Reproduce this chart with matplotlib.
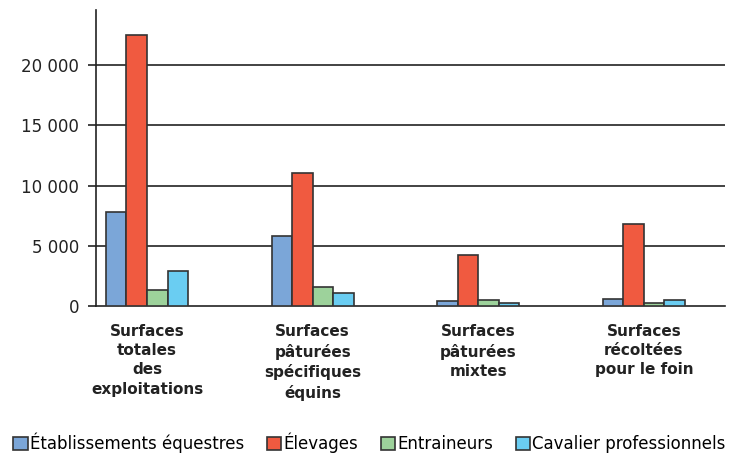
import matplotlib.pyplot as plt
import numpy as np

# data
categories = ["Surfaces\ntotales\ndes\nexploitations",
              "Surfaces\npâturées\nspécifiques\néquins",
              "Surfaces\npâturées\nmixtes",
              "Surfaces\nrécoltées\npour le foin"]
series_names = ["Établissements équestres", "Élevages", "Entraineurs", "Cavalier professionnels"]
etablissements = [7800, 5850, 420, 620]
elevages = [22500, 11000, 4200, 6800]
entraineurs = [1300, 1550, 500, 290]
cavaliers = [2900, 1050, 250, 470]
yticks = [0, 5000, 10000, 15000, 20000]
ytick_labels = ["0", "5 000", "10 000", "15 000", "20 000"]

colors = ["#7ba6d8", "#f05a40", "#9dd29b", "#6acdf2"]
edge = "#333333"

fig = plt.figure(figsize=(7.29, 4.61), dpi=100)
ax = fig.add_axes([0.1317, 0.3362, 0.8628, 0.6418])

x = np.arange(len(categories))
w = 0.124
all_series = [etablissements, elevages, entraineurs, cavaliers]
for i, (vals, name, c) in enumerate(zip(all_series, series_names, colors)):
    ax.bar(x + (i - 1.5) * w, vals, w, color=c, edgecolor=edge, linewidth=1.2,
           label=name, zorder=3)

ax.set_xlim(-0.308, 3.49)
ax.set_ylim(0, 24560)

# horizontal rules
for t in yticks[1:]:
    ax.axhline(t, color="#222222", linewidth=1.2, zorder=1)

ax.set_yticks(yticks)
ax.set_yticklabels(ytick_labels, fontsize=12, color="#222222")
ax.tick_params(axis="y", length=6, width=1.2, color="#222222", pad=6)

ax.set_xticks(x)
ax.set_xticklabels(categories, fontsize=11, fontweight="bold", color="#222222",
                   linespacing=1.35, va="top")
ax.tick_params(axis="x", length=0, pad=13)

for s in ["top", "right"]:
    ax.spines[s].set_visible(False)
ax.spines["left"].set_linewidth(1.2)
ax.spines["bottom"].set_linewidth(1.2)
ax.spines["left"].set_color("#222222")
ax.spines["bottom"].set_color("#222222")

fig.legend(loc="lower left", bbox_to_anchor=(0.0, -0.012), ncol=4, frameon=False,
           handlelength=0.85, handleheight=0.85, handletextpad=0.15,
           columnspacing=1.35, borderaxespad=0.4,
           prop={"family": "DejaVu Sans", "size": 12})

fig.savefig("out.png", dpi=100)
